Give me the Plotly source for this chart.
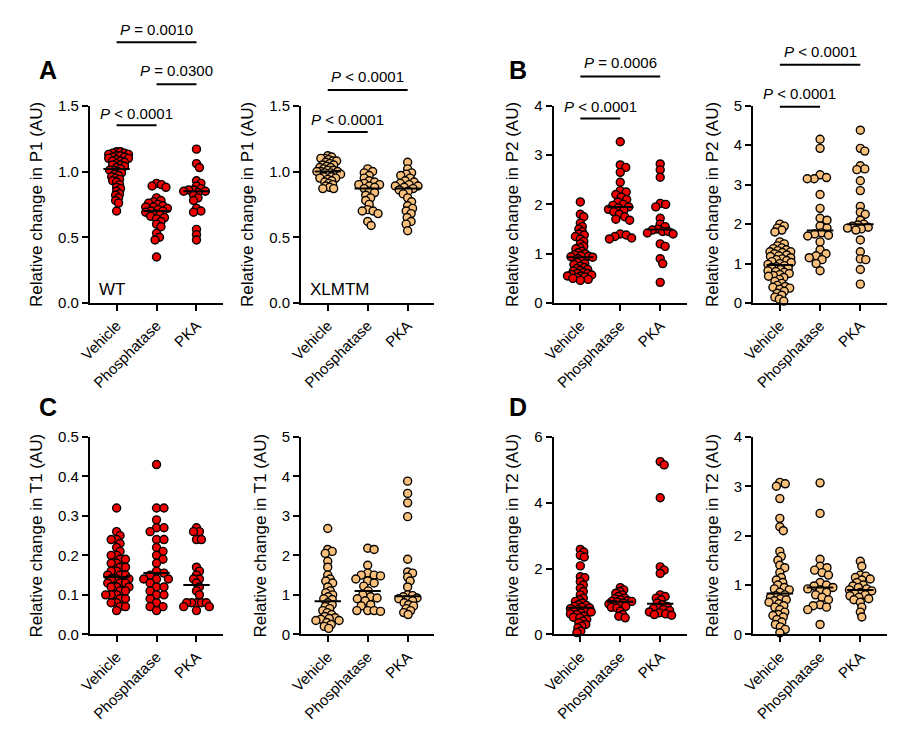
import numpy as np
import plotly.graph_objects as go

groups = ["Vehicle", "Phosphatase", "PKA"]

# ---- P1 (A) ----
p1_wt_vehicle = [1.15, 1.15, 1.14, 1.14, 1.13, 1.13, 1.12, 1.12, 1.11, 1.11, 1.10, 1.10, 1.09, 1.08, 1.08,
                 1.07, 1.06, 1.05, 1.05, 1.04, 1.03, 1.02, 1.01, 1.01, 1.00, 0.99, 0.98, 0.97, 0.96, 0.95,
                 0.94, 0.93, 0.92, 0.90, 0.88, 0.87, 0.85, 0.83, 0.82, 0.80, 0.78, 0.76, 0.70]
p1_wt_phos = [0.91, 0.90, 0.89, 0.88, 0.80, 0.78, 0.77, 0.76, 0.75, 0.74, 0.73, 0.73, 0.72, 0.71, 0.70,
              0.70, 0.69, 0.68, 0.67, 0.66, 0.65, 0.64, 0.62, 0.60, 0.58, 0.53, 0.50, 0.48, 0.35]
p1_wt_pka = [1.17, 1.06, 1.03, 0.93, 0.91, 0.89, 0.87, 0.86, 0.86, 0.85, 0.85, 0.84, 0.82, 0.80, 0.78,
             0.72, 0.70, 0.69, 0.56, 0.52, 0.48]
p1_xl_vehicle = [1.12, 1.11, 1.10, 1.10, 1.09, 1.08, 1.08, 1.07, 1.06, 1.05, 1.05, 1.04, 1.03, 1.03, 1.02,
                 1.01, 1.01, 1.00, 1.00, 1.00, 0.99, 0.99, 0.98, 0.98, 0.97, 0.96, 0.96, 0.95, 0.95, 0.94,
                 0.93, 0.92, 0.91, 0.90, 0.89, 0.88, 0.87, 0.87]
p1_xl_phos = [1.02, 1.00, 0.99, 0.97, 0.95, 0.93, 0.92, 0.91, 0.90, 0.90, 0.89, 0.88, 0.87, 0.85, 0.84,
              0.82, 0.80, 0.78, 0.75, 0.71, 0.70, 0.70, 0.68, 0.62, 0.59]
p1_xl_pka = [1.07, 1.02, 0.99, 0.98, 0.97, 0.95, 0.93, 0.92, 0.91, 0.90, 0.89, 0.89, 0.88, 0.87, 0.86,
             0.85, 0.83, 0.80, 0.77, 0.74, 0.72, 0.70, 0.68, 0.65, 0.62, 0.60, 0.55]

# ---- P2 (B) ----
p2_wt_vehicle = [2.05, 1.80, 1.75, 1.62, 1.55, 1.50, 1.45, 1.40, 1.38, 1.35, 1.30, 1.25, 1.20, 1.15, 1.12,
                 1.10, 1.05, 1.02, 1.00, 0.98, 0.96, 0.95, 0.94, 0.93, 0.90, 0.85, 0.82, 0.80, 0.78, 0.75,
                 0.72, 0.70, 0.68, 0.66, 0.65, 0.62, 0.60, 0.60, 0.58, 0.57, 0.55, 0.55, 0.53, 0.52, 0.50,
                 0.48, 0.46]
p2_wt_phos = [3.27, 2.80, 2.75, 2.65, 2.45, 2.28, 2.25, 2.20, 2.15, 2.10, 2.05, 2.00, 1.98, 1.95, 1.93,
              1.90, 1.88, 1.85, 1.80, 1.75, 1.70, 1.68, 1.40, 1.38, 1.35, 1.32, 1.30]
p2_wt_pka = [2.82, 2.70, 2.55, 2.02, 2.00, 1.95, 1.72, 1.60, 1.55, 1.50, 1.48, 1.45, 1.45, 1.42, 1.40,
             1.20, 1.15, 0.90, 0.80, 0.42]
p2_xl_vehicle = [2.00, 1.95, 1.90, 1.85, 1.80, 1.55, 1.50, 1.45, 1.40, 1.38, 1.35, 1.33, 1.30, 1.30, 1.28,
                 1.25, 1.22, 1.20, 1.18, 1.15, 1.12, 1.10, 1.08, 1.05, 1.03, 1.00, 0.98, 0.95, 0.92, 0.90,
                 0.88, 0.85, 0.82, 0.80, 0.78, 0.75, 0.72, 0.70, 0.68, 0.65, 0.60, 0.55, 0.50, 0.45, 0.42,
                 0.40, 0.38, 0.35, 0.30, 0.25, 0.20, 0.15, 0.10, 0.05]
p2_xl_phos = [4.15, 3.92, 3.25, 3.18, 3.15, 3.15, 2.75, 2.40, 2.15, 2.10, 1.95, 1.90, 1.78, 1.75, 1.72,
              1.70, 1.55, 1.35, 1.25, 1.20, 1.15, 1.10, 1.00, 0.82]
p2_xl_pka = [4.38, 3.92, 3.85, 3.48, 3.40, 3.38, 3.10, 2.85, 2.45, 2.30, 2.25, 2.10, 2.00, 1.98, 1.95,
             1.92, 1.90, 1.88, 1.85, 1.60, 1.30, 1.12, 1.10, 0.85, 0.48]

# ---- T1 (C) ----
t1_wt_vehicle = [0.32, 0.26, 0.25, 0.24, 0.24, 0.23, 0.22, 0.21, 0.20, 0.20, 0.19, 0.19, 0.18, 0.18, 0.17,
                 0.17, 0.16, 0.16, 0.15, 0.15, 0.15, 0.14, 0.14, 0.14, 0.13, 0.13, 0.13, 0.12, 0.12, 0.12,
                 0.11, 0.11, 0.10, 0.10, 0.10, 0.09, 0.09, 0.08, 0.08, 0.07, 0.07, 0.06]
t1_wt_phos = [0.43, 0.32, 0.32, 0.29, 0.27, 0.27, 0.26, 0.24, 0.24, 0.22, 0.21, 0.20, 0.19, 0.18, 0.16,
              0.155, 0.15, 0.14, 0.14, 0.14, 0.13, 0.12, 0.12, 0.11, 0.10, 0.10, 0.09, 0.08, 0.07, 0.07,
              0.06]
t1_wt_pka = [0.27, 0.26, 0.26, 0.24, 0.24, 0.17, 0.16, 0.15, 0.14, 0.14, 0.13, 0.12, 0.11, 0.10, 0.08,
             0.08, 0.08, 0.08, 0.08, 0.07, 0.07, 0.06]
t1_xl_vehicle = [2.68, 2.15, 2.10, 2.05, 1.85, 1.70, 1.50, 1.40, 1.35, 1.30, 1.20, 1.10, 1.05, 1.00, 0.95,
                 0.90, 0.88, 0.80, 0.75, 0.70, 0.65, 0.60, 0.55, 0.50, 0.45, 0.42, 0.40, 0.38, 0.35, 0.35,
                 0.30, 0.25, 0.20, 0.15]
t1_xl_phos = [2.18, 2.15, 1.75, 1.55, 1.50, 1.50, 1.48, 1.40, 1.35, 1.30, 1.22, 1.10, 1.00, 0.95, 0.92,
              0.90, 0.85, 0.75, 0.72, 0.60, 0.60, 0.58, 0.60]
t1_xl_pka = [3.88, 3.57, 3.33, 2.98, 1.90, 1.58, 1.55, 1.45, 1.35, 1.20, 1.00, 0.98, 0.95, 0.92, 0.90,
             0.88, 0.85, 0.80, 0.75, 0.72, 0.65, 0.60, 0.55, 0.50]

# ---- T2 (D) ----
t2_wt_vehicle = [2.58, 2.50, 2.40, 2.35, 2.08, 1.75, 1.72, 1.60, 1.50, 1.40, 1.30, 1.20, 1.10, 1.05, 1.00,
                 0.95, 0.90, 0.88, 0.85, 0.82, 0.80, 0.78, 0.75, 0.72, 0.70, 0.68, 0.65, 0.62, 0.60, 0.55,
                 0.52, 0.50, 0.45, 0.40, 0.35, 0.30, 0.25, 0.20, 0.10, 0.05]
t2_wt_phos = [1.42, 1.35, 1.30, 1.25, 1.20, 1.15, 1.10, 1.08, 1.05, 1.02, 1.00, 1.00, 0.98, 0.95, 0.92,
              0.90, 0.88, 0.85, 0.82, 0.80, 0.70, 0.60, 0.55, 0.50]
t2_wt_pka = [5.25, 5.15, 4.15, 2.05, 1.95, 1.85, 1.20, 1.15, 1.10, 1.05, 0.95, 0.90, 0.85, 0.80, 0.78,
             0.75, 0.72, 0.68, 0.65, 0.62, 0.60, 0.58]
t2_xl_vehicle = [3.08, 3.05, 3.00, 2.75, 2.35, 2.18, 2.10, 1.68, 1.58, 1.50, 1.40, 1.35, 1.25, 1.15, 1.10,
                 1.05, 1.00, 0.95, 0.92, 0.90, 0.85, 0.80, 0.78, 0.75, 0.72, 0.70, 0.68, 0.65, 0.62, 0.58,
                 0.55, 0.50, 0.45, 0.40, 0.38, 0.35, 0.30, 0.25, 0.20, 0.15, 0.10, 0.03]
t2_xl_phos = [3.07, 2.45, 1.52, 1.38, 1.35, 1.30, 1.25, 1.20, 1.05, 1.00, 0.98, 0.95, 0.92, 0.90, 0.85,
              0.80, 0.75, 0.70, 0.60, 0.58, 0.55, 0.50, 0.20]
t2_xl_pka = [1.48, 1.38, 1.20, 1.18, 1.15, 1.12, 1.10, 1.05, 1.00, 0.98, 0.95, 0.92, 0.90, 0.88, 0.85,
             0.82, 0.80, 0.78, 0.75, 0.72, 0.70, 0.65, 0.55, 0.45, 0.35]

ytitles = ["Relative change in P1 (AU)", "Relative change in P1 (AU)",
           "Relative change in P2 (AU)", "Relative change in P2 (AU)",
           "Relative change in T1 (AU)", "Relative change in T1 (AU)",
           "Relative change in T2 (AU)", "Relative change in T2 (AU)"]
ymaxs = [1.5, 1.5, 4, 5, 0.5, 5, 6, 4]
ydticks = [0.5, 0.5, 1, 1, 0.1, 1, 2, 1]
yformats = [".1f", ".1f", "d", "d", ".1f", "d", "d", "d"]

RED = "#F00000"
ORANGE = "#F9C07C"

panels = [
    dict(data=[p1_wt_vehicle, p1_wt_phos, p1_wt_pka], color=RED),
    dict(data=[p1_xl_vehicle, p1_xl_phos, p1_xl_pka], color=ORANGE),
    dict(data=[p2_wt_vehicle, p2_wt_phos, p2_wt_pka], color=RED),
    dict(data=[p2_xl_vehicle, p2_xl_phos, p2_xl_pka], color=ORANGE),
    dict(data=[t1_wt_vehicle, t1_wt_phos, t1_wt_pka], color=RED),
    dict(data=[t1_xl_vehicle, t1_xl_phos, t1_xl_pka], color=ORANGE),
    dict(data=[t2_wt_vehicle, t2_wt_phos, t2_wt_pka], color=RED),
    dict(data=[t2_xl_vehicle, t2_xl_phos, t2_xl_pka], color=ORANGE),
]

W, H = 900, 740
xdoms = [(79, 214), (293, 428), (549, 684), (751, 887)] * 2
ydoms = [(99, 301)] * 4 + [(438, 640)] * 4
XMIN, XMAX = -0.667, 2.667

FONT = "Arial, Liberation Sans, sans-serif"


def swarm_once(ys, d, step=0.5):
    order = np.argsort(-ys, kind="stable")
    placed = []
    offs = np.zeros(len(ys))
    for idx in order:
        y = ys[idx]
        k = 0
        found = None
        while found is None:
            cands = [0.0] if k == 0 else [k * step, -k * step]
            for c in cands:
                if all((c - px) ** 2 + (y - py) ** 2 >= d * d for px, py in placed):
                    found = c
                    break
            k += 1
        placed.append((found, y))
        offs[idx] = found
    return offs


def swarm(vals, px_per_unit_y, px_per_unit_x, d=8.0, maxw=13.0):
    ys = np.asarray(vals, dtype=float) * px_per_unit_y
    while True:
        offs = swarm_once(ys, d)
        if np.max(np.abs(offs)) <= maxw or d <= 3.0:
            break
        d -= 0.25
    return offs / px_per_unit_x


fig = go.Figure()
shapes = []
annotations = []

for i, p in enumerate(panels):
    n = i + 1
    xa = "x" if n == 1 else f"x{n}"
    ya = "y" if n == 1 else f"y{n}"
    x0, x1 = xdoms[i]
    y0, y1 = ydoms[i]
    ppx = (x1 - x0) / (XMAX - XMIN)
    ppy = (y1 - y0) / ymaxs[i]
    for g, vals in enumerate(p["data"]):
        offs = swarm(vals, ppy, ppx)
        fig.add_trace(go.Scatter(
            x=g + offs, y=vals, mode="markers", xaxis=xa, yaxis=ya,
            marker=dict(size=8, color=p["color"], line=dict(color="black", width=1.4)),
            cliponaxis=False, showlegend=False, hoverinfo="y"))
    for g, vals in enumerate(p["data"]):
        med = float(np.median(vals))
        fig.add_trace(go.Scatter(
            x=[g - 0.33, g + 0.33], y=[med, med], mode="lines", xaxis=xa, yaxis=ya,
            line=dict(color="black", width=2), cliponaxis=False, showlegend=False, hoverinfo="skip"))

    xkey = "xaxis" if n == 1 else f"xaxis{n}"
    ykey = "yaxis" if n == 1 else f"yaxis{n}"
    fig.layout[xkey] = dict(
        domain=[x0 / W, x1 / W], range=[XMIN, XMAX], anchor=ya,
        tickmode="array", tickvals=[0, 1, 2], ticktext=groups, tickangle=-45,
        showline=True, linecolor="black", linewidth=2, ticks="outside", ticklen=6, tickwidth=2,
        tickcolor="black", showgrid=False, zeroline=False,
        tickfont=dict(family=FONT, size=15, color="black"), fixedrange=True)
    fig.layout[ykey] = dict(
        domain=[1 - y1 / H, 1 - y0 / H], range=[0, ymaxs[i]], anchor=xa,
        dtick=ydticks[i], tick0=0, tickformat=yformats[i],
        showline=True, linecolor="black", linewidth=2, ticks="outside", ticklen=6, tickwidth=2,
        tickcolor="black", showgrid=False, zeroline=False,
        tickfont=dict(family=FONT, size=15, color="black"),
        title=dict(text=ytitles[i], font=dict(family=FONT, size=17, color="black"), standoff=11),
        fixedrange=True)

# significance brackets: (panel index, g0, g1, text, text_y_px, line_y_px)
brackets = [
    (0, 0, 2, "<i>P</i> = 0.0010", 21, 34),
    (0, 1, 2, "<i>P</i> = 0.0300", 63, 77),
    (0, 0, 1, "<i>P</i> < 0.0001", 107, 119),
    (1, 0, 2, "<i>P</i> < 0.0001", 69, 83),
    (1, 0, 1, "<i>P</i> < 0.0001", 113, 126),
    (2, 0, 2, "<i>P</i> = 0.0006", 55, 69),
    (2, 0, 1, "<i>P</i> < 0.0001", 100, 112),
    (3, 0, 2, "<i>P</i> < 0.0001", 43, 57),
    (3, 0, 1, "<i>P</i> < 0.0001", 86, 100),
]
for (pi, g0, g1, txt, ty, ly) in brackets:
    n = pi + 1
    xa = "x" if n == 1 else f"x{n}"
    ya = "y" if n == 1 else f"y{n}"
    y0, y1 = ydoms[pi]
    fx0 = (g0 - XMIN) / (XMAX - XMIN)
    fx1 = (g1 - XMIN) / (XMAX - XMIN)
    fy_line = (y1 - ly) / (y1 - y0)
    fy_text = (y1 - ty) / (y1 - y0)
    shapes.append(dict(type="line", xref=f"{xa} domain", yref=f"{ya} domain",
                       x0=fx0, x1=fx1, y0=fy_line, y1=fy_line,
                       line=dict(color="black", width=2)))
    annotations.append(dict(text=txt, xref=xa, yref=f"{ya} domain", x=(g0 + g1) / 2, y=fy_text,
                            showarrow=False, xanchor="center", yanchor="middle",
                            font=dict(family=FONT, size=15, color="black")))

# genotype labels
for pi, lab in [(0, "WT"), (1, "XLMTM")]:
    n = pi + 1
    xa = "x" if n == 1 else f"x{n}"
    ya = "y" if n == 1 else f"y{n}"
    annotations.append(dict(text=lab, xref=f"{xa} domain", yref=f"{ya} domain", x=0.05, y=0.07,
                            showarrow=False, xanchor="left", yanchor="middle",
                            font=dict(family=FONT, size=17, color="black")))

# panel letters
for lab, px, py in [("A", 36, 62), ("B", 513, 62), ("C", 36, 407), ("D", 513, 407)]:
    annotations.append(dict(text=f"<b>{lab}</b>", xref="paper", yref="paper", x=px / W, y=1 - py / H,
                            showarrow=False, xanchor="center", yanchor="middle",
                            font=dict(family=FONT, size=25, color="black")))

fig.update_layout(
    width=W, height=H, margin=dict(l=0, r=0, t=0, b=0),
    paper_bgcolor="white", plot_bgcolor="white",
    shapes=shapes, annotations=annotations, showlegend=False,
    font=dict(family=FONT, color="black"),
)

fig.write_html("out.html",
               post_script="document.body.style.margin='0';document.body.style.padding='0';")
